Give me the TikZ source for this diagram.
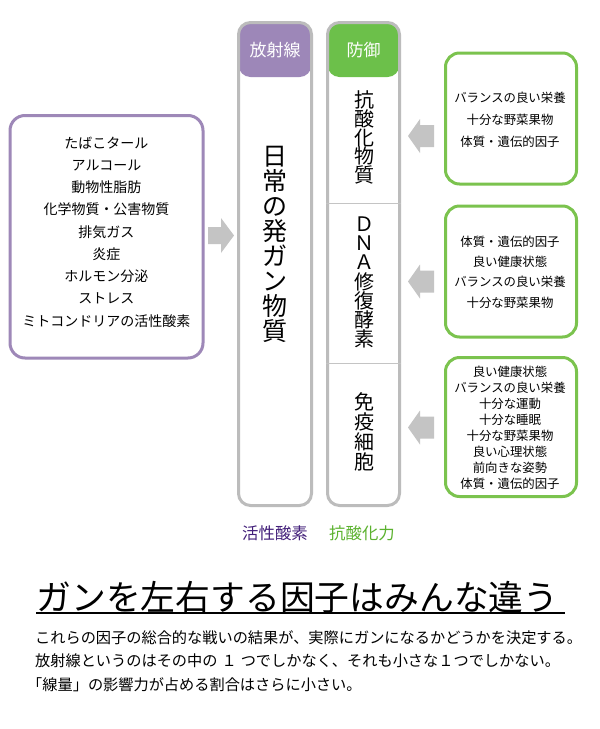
\documentclass[tikz,border=0pt]{standalone}
\usepackage{fontspec}
\setmainfont{Noto Sans CJK JP}
\definecolor{hdrpurple}{HTML}{9D87B8}
\definecolor{boxpurple}{HTML}{9E88B8}
\definecolor{colgray}{HTML}{BCBCBC}
\definecolor{hdrgreen}{HTML}{6CC04A}
\definecolor{boxgreen}{HTML}{7BC34E}
\definecolor{arrowgray}{HTML}{C4C4C4}
\definecolor{divgray}{HTML}{C4C4C4}
\definecolor{lblpurple}{HTML}{43207A}
\definecolor{lblgreen}{HTML}{5BB22E}
\begin{document}
\begin{tikzpicture}[x=1pt,y=-1pt,
  txt/.style={inner sep=0pt, align=center},
  colbox/.style={draw=colgray, line width=3pt, rounded corners=12pt, minimum width=73pt, minimum height=483pt, inner sep=0pt},
  leftbox/.style={draw=boxpurple, line width=3pt, rounded corners=15pt, minimum width=193pt, minimum height=242.5pt, inner sep=0pt},
  rightbox/.style={draw=boxgreen, line width=3pt, rounded corners=14pt, minimum width=131pt, inner sep=0pt},
  hdrtext/.style={txt, text=white, font=\fontsize{17}{17}\selectfont},
  vtext/.style={txt, font={\fontsize{#1}{#1}\selectfont\lineskiplimit=-1000pt}},
  blockarrow/.style={fill=arrowgray, draw=none},
  divider/.style={draw=divgray, line width=1pt}
]
\useasboundingbox (0,0) rectangle (600,729);
\fill[white] (0,0) rectangle (600,729);

% left box
\node[leftbox] (lbox) at (106.5,236.75) {};
\node[txt, font={\fontsize{14}{22.25}\selectfont}] (ltext) at (106.5,232)
  {たばこタール\\アルコール\\動物性脂肪\\化学物質・公害物質\\排気ガス\\炎症\\ホルモン分泌\\ストレス\\ミトコンドリアの活性酸素};

% column 1
\node[colbox, path picture={\fill[hdrpurple] (path picture bounding box.north west) rectangle ([yshift=-54.5pt]path picture bounding box.north east);}] (col1) at (275,264) {};
\node[hdrtext] (hd1) at (275,50.5) {放射線};
\node[vtext=25] (t1) at (275,244) {日\\常\\の\\発\\ガ\\ン\\物\\質};

% column 2
\node[colbox, minimum width=72pt, path picture={\fill[hdrgreen] (path picture bounding box.north west) rectangle ([yshift=-54.5pt]path picture bounding box.north east);}] (col2) at (363.5,264) {};
\node[hdrtext] (hd2) at (363.5,50.5) {防御};
\coordinate (d1) at (327,203);
\coordinate (d2) at (363,363);
\draw[divider] (col2.west |- d1) -- (col2.east |- d1);
\draw[divider] (col2.west |- d2) -- (col2.east |- d2);
\node[vtext=20, font={\fontsize{20}{18.75}\selectfont\lineskiplimit=-1000pt}] (s1) at (364,137.5) {抗\\酸\\化\\物\\質};
\node[vtext=20, font={\fontsize{20}{19.2}\selectfont\lineskiplimit=-1000pt}] (s2) at (364,282.5) {Ｄ\\Ｎ\\Ａ\\修\\復\\酵\\素};
\node[vtext=20] (s3) at (364,432) {免\\疫\\細\\胞};

% labels
\node[txt, text=lblpurple, font=\fontsize{16.4}{16.4}\selectfont] (lab1) at (275,533) {活性酸素};
\node[txt, text=lblgreen, font=\fontsize{16.4}{16.4}\selectfont] (lab2) at (362,533) {抗酸化力};

% right boxes
\node[rightbox, minimum height=131pt] (r1) at (511,118.5) {};
\node[txt, font={\fontsize{12.4}{22.2}\selectfont}] (r1t) at (510,119.5) {バランスの良い栄養\\十分な野菜果物\\体質・遺伝的因子};
\node[rightbox, minimum height=131pt] (r2) at (511,271.5) {};
\node[txt, font={\fontsize{12.4}{20.2}\selectfont}] (r2t) at (510,272) {体質・遺伝的因子\\良い健康状態\\バランスの良い栄養\\十分な野菜果物};
\node[rightbox, minimum height=139pt] (r3) at (511,427) {};
\node[txt, font={\fontsize{12.4}{16}\selectfont}] (r3t) at (510,428) {良い健康状態\\バランスの良い栄養\\十分な運動\\十分な睡眠\\十分な野菜果物\\良い心理状態\\前向きな姿勢\\体質・遺伝的因子};

% arrows
\fill[blockarrow] (234,235.5) -- (221,218) -- (221,227) -- (208,227) -- (208,244) -- (221,244) -- (221,253) -- cycle;
\foreach \c in {136,281.5,427.5}{
  \fill[blockarrow] (408,\c) -- (420,\c-17) -- (420,\c-11) -- (434,\c-11) -- (434,\c+11) -- (420,\c+11) -- (420,\c+17) -- cycle;
}

% title
\node[txt, font=\fontsize{34.8}{34.8}\selectfont] (title) at (297.5,597) {ガンを左右する因子はみんな違う};
\coordinate (ul1) at (36,613);
\coordinate (ul2) at (565,613);
\draw[line width=1.5pt] (ul1) -- (ul2);

% body text
\node[txt, anchor=west, font=\fontsize{15.2}{15.2}\selectfont] (b1) at (35,638) {これらの因子の総合的な戦いの結果が、実際にガンになるかどうかを決定する。};
\node[txt, anchor=west, font=\fontsize{15.2}{15.2}\selectfont] (b2) at (35,661) {放射線というのはその中の\hspace{4pt}１\hspace{4pt}つでしかなく、それも小さな１つでしかない。};
\node[txt, anchor=west, font=\fontsize{15.2}{15.2}\selectfont] (b3) at (27,685) {「線量」の影響力が占める割合はさらに小さい。};
\end{tikzpicture}
\end{document}
